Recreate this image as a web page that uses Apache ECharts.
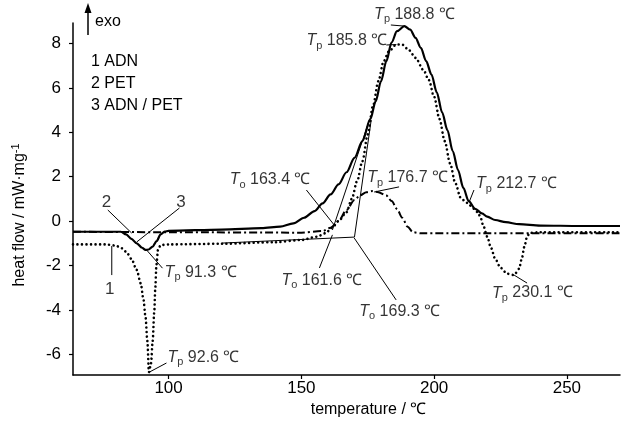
<!DOCTYPE html>
<html>
<head>
<meta charset="utf-8">
<script src="https://cdn.jsdelivr.net/npm/echarts@6/dist/echarts.min.js"></script>
<style>
html, body { margin: 0; padding: 0; background: #fff; }
#chart { width: 624px; height: 423px; }
</style>
</head>
<body>
<div id="chart"></div>
<script>
var FONT = "'Liberation Sans', Arial, sans-serif";
var FS = 16;

var sampleNames = ['1 ADN', '2 PET', '3 ADN / PET'];
var xTicks = [100, 150, 200, 250];
var yTicks = [-6, -4, -2, 0, 2, 4, 6, 8];

// [temperature, heat flow]
var adn = [[64,-1.05],[76,-1.05],[80,-1.1],[82,-1.2],[84,-1.38],[86,-1.7],[88,-2.2],[89.5,-2.8],[90.5,-3.5],
  [91.3,-4.3],[92,-5.4],[92.6,-6.8],[93.4,-6.4],[94,-5.4],[94.6,-4.1],[95,-3.0],[95.4,-2.0],[96,-1.3],[97,-1.08],
  [100,-1.05],[120,-1.02],[140,-0.95],[150,-0.85],[156,-0.7],[159,-0.55],[161.6,-0.3],[164,0.0],[167,0.4],
  [169,1.0],[171,1.8],[173,2.7],[175,3.9],[177,5.2],[179,6.3],[181,7.2],[183,7.65],[185.8,7.95],[188,7.95],
  [190.5,7.7],[193,7.35],[196,6.8],[198,6.35],[200,5.6],[202,4.6],[204,3.6],[206,2.6],[208,1.7],[210,1.05],
  [212,0.85],[213.5,0.7],[216.5,0.4],[217.5,0.15],[218.5,-0.2],[220,-0.7],[221.4,-1.2],[223,-1.7],[225,-2.1],
  [227.5,-2.37],[230.1,-2.43],[232,-2.15],[233,-1.7],[234,-1.15],[235,-0.7],[236,-0.53],[240,-0.5],[270,-0.5]];

var pet = [[64,-0.48],[100,-0.5],[150,-0.52],[158,-0.45],[161,-0.3],[164,0.0],[167,0.5],[170,0.95],[172,1.15],
  [174.5,1.3],[176.7,1.35],[179,1.3],[182,1.15],[184,0.9],[186,0.55],[188,0.15],[190,-0.25],[192,-0.5],
  [195,-0.55],[270,-0.55]];

var mix = [[64,-0.48],[82,-0.48],[84,-0.6],[86,-0.8],[88,-1.0],[90,-1.2],[91.3,-1.3],[92.5,-1.28],[94,-1.15],
  [95.5,-0.9],[97,-0.6],[98.5,-0.47],[100,-0.44],[120,-0.38],[135,-0.32],[142,-0.25],[147,-0.1],[151,0.15],
  [155,0.45],[158,0.8],[161,1.2],[164,1.65],[167,2.2],[170,2.85],[173,3.6],[176,4.6],[178,5.4],[180,6.3],
  [182,7.2],[184,8.05],[186,8.55],[188.8,8.78],[191,8.62],[193,8.25],[195,7.8],[197,7.2],[199,6.6],[201,5.8],
  [203,4.9],[205,4.1],[207,3.15],[209,2.3],[211,1.5],[213,0.9],[215.5,0.55],[218,0.35],[220,0.2],[223,0.05],
  [227,-0.05],[232,-0.14],[240,-0.2],[255,-0.22],[270,-0.22]];

// onset tangent construction
var tangents = [
  [[120,-0.99],[170,-0.72]],
  [[170,-0.72],[176.3,4.55]],
  [[161.7,-0.4],[175.6,4.55]]
];

// peak / onset notes: subscript, value text, text anchor, leader line
var noteSub = ['p','p','o','p','p','o','o','p','p','p'];
var noteText = ['188.8 ℃','185.8 ℃','163.4 ℃','176.7 ℃','212.7 ℃','161.6 ℃','169.3 ℃','230.1 ℃','91.3 ℃','92.6 ℃'];
var noteAt = [[177.4,9.32],[151.9,8.11],[123,1.85],[174.8,1.94],[215.8,1.67],[142.5,-2.66],[171.8,-4.09],
  [221.8,-3.24],[98.5,-2.3],[99.6,-6.13]];
var noteLeader = [
  [[188.8,8.78],[183.7,8.83]],
  [[185.8,7.95],[182,7.93]],
  [[151.9,1.4],[162.4,-0.18]],
  [[177.4,1.31],[186.8,1.54]],
  [[213.2,0.86],[215.0,1.40]],
  [[156.8,-2.11],[161.7,-0.62]],
  [[169.9,-0.76],[185.7,-3.55]],
  [[230.1,-2.43],[235,-2.79]],
  [[91.7,-1.3],[97.7,-2.12]],
  [[92.9,-6.79],[99.2,-6.39]]
];

// curve numbers with leaders
var curveNum = ['1','2','3'];
var curveNumAt = [[77.8,-3.05],[76.6,0.86],[104.7,0.86]];
var curveNumLeader = [
  [[78.6,-1.12],[78.6,-2.43]],
  [[77.1,0.5],[86.1,-0.54]],
  [[104.1,0.59],[88.0,-0.94]]
];

var rich = {
  it: { fontFamily: FONT, fontSize: FS, fontStyle: 'italic', color: '#000', lineHeight: 20 },
  sub: { fontFamily: FONT, fontSize: 11, color: '#000', lineHeight: 20, verticalAlign: 'bottom' },
  n: { fontFamily: FONT, fontSize: FS, color: '#000', lineHeight: 20 }
};

function thinLine(data, w) {
  return {
    type: 'line', data: data, symbol: 'none', silent: true, clip: false,
    lineStyle: { color: '#000', width: w || 1 }, z: 1
  };
}

var series = [
  {
    name: sampleNames[0], type: 'line', data: adn, symbol: 'none', smooth: 0.3, smoothMonotone: 'x',
    lineStyle: { color: '#000', width: 2.6, type: [0.01, 4.5], cap: 'round' }
  },
  {
    name: sampleNames[1], type: 'line', data: pet, symbol: 'none', smooth: 0.3, smoothMonotone: 'x',
    lineStyle: { color: '#000', width: 2, type: [8, 3, 2, 3] }
  },
  {
    name: sampleNames[2], type: 'line', data: mix, symbol: 'none', smooth: 0.3, smoothMonotone: 'x',
    lineStyle: { color: '#000', width: 2.2 }
  }
];
tangents.forEach(function (t) { series.push(thinLine(t)); });
noteLeader.forEach(function (t) { series.push(thinLine(t)); });
curveNumLeader.forEach(function (t) { series.push(thinLine(t)); });

series.push({
  type: 'scatter', symbolSize: 0, clip: false, silent: true,
  data: noteAt.map(function (p, i) { return { value: p, sub: noteSub[i], txt: noteText[i] }; }),
  label: {
    show: true, position: 'right', distance: 0,
    formatter: function (p) { return '{it|T}{sub|' + p.data.sub + '}{n| ' + p.data.txt + '}'; },
    rich: rich
  }
});
series.push({
  type: 'scatter', symbolSize: 0, clip: false, silent: true,
  data: curveNumAt.map(function (p, i) { return { value: p, name: curveNum[i] }; }),
  label: { show: true, position: 'inside', formatter: '{b}', fontFamily: FONT, fontSize: FS + 1, color: '#000' }
});

var chart = echarts.init(document.getElementById('chart'));
chart.setOption({
  animation: false,
  backgroundColor: '#fff',
  grid: { left: 73, right: 4, top: 23, bottom: 48 },
  legend: {
    data: sampleNames, orient: 'vertical', left: 81, top: 49, itemWidth: 0, itemHeight: 0, itemGap: 6,
    icon: 'none', selectedMode: false,
    textStyle: { fontFamily: FONT, fontSize: FS, color: '#000' }
  },
  xAxis: {
    type: 'value', min: 64, max: 270,
    name: 'temperature / ℃', nameLocation: 'middle', nameGap: 26,
    nameTextStyle: { fontFamily: FONT, fontSize: FS, color: '#000', padding: [0, 0, 0, 44] },
    axisLine: { onZero: false, lineStyle: { color: '#000', width: 1.5 } },
    axisTick: { customValues: xTicks, length: 4, lineStyle: { color: '#000', width: 1.2 } },
    axisLabel: { customValues: xTicks, margin: 5, fontFamily: FONT, fontSize: FS + 1, color: '#000' },
    splitLine: { show: false }
  },
  yAxis: {
    type: 'value', min: -6.93, max: 8.92,
    name: 'heat flow / mW·mg{sup|-1}', nameLocation: 'middle', nameGap: 43,
    nameTextStyle: {
      fontFamily: FONT, fontSize: FS, color: '#000', padding: [0, 32, 0, 0],
      rich: { sup: { fontFamily: FONT, fontSize: 11, color: '#000', verticalAlign: 'top', lineHeight: 20 } }
    },
    axisLine: { show: true, onZero: false, lineStyle: { color: '#000', width: 1.5 } },
    axisTick: { show: true, customValues: yTicks, length: 4, lineStyle: { color: '#000', width: 1.2 } },
    axisLabel: { customValues: yTicks, margin: 12, fontFamily: FONT, fontSize: FS + 1, color: '#000' },
    splitLine: { show: false }
  },
  graphic: [
    { type: 'line', shape: { x1: 88, y1: 35, x2: 88, y2: 10 }, style: { stroke: '#000', lineWidth: 1.5 } },
    { type: 'polygon', shape: { points: [[84.5, 13], [88, 3], [91.5, 13]] }, style: { fill: '#000' } },
    { type: 'text', left: 95, top: 14, style: { text: 'exo', fontFamily: FONT, fontSize: FS, fill: '#000' } }
  ],
  series: series
});
</script>
</body>
</html>
